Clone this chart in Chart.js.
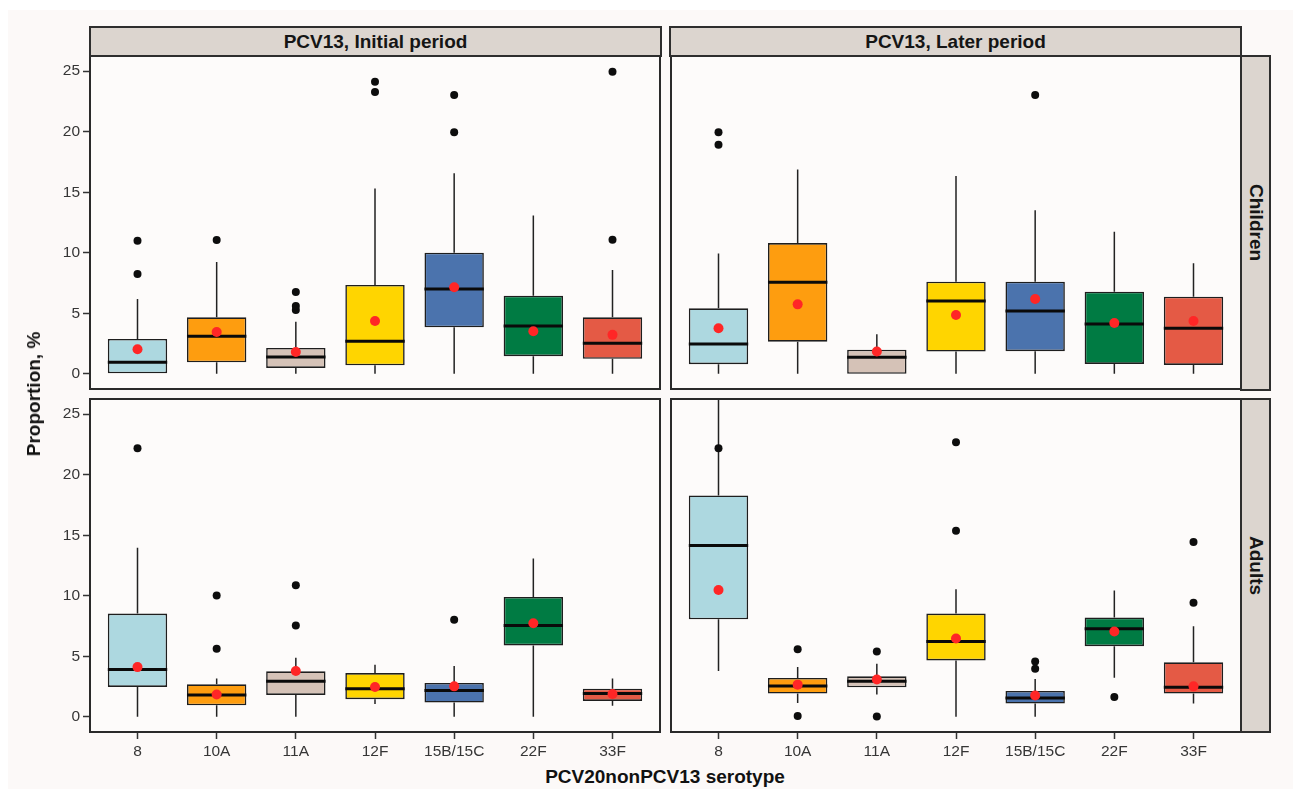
<!DOCTYPE html>
<html><head><meta charset="utf-8">
<script src="https://cdn.jsdelivr.net/npm/chart.js@4.4.1/dist/chart.umd.min.js"></script>
<style>
html,body{margin:0;padding:0;background:#fff;width:1293px;height:789px;overflow:hidden;font-family:"Liberation Sans",Arial,sans-serif;}
#bg{position:absolute;left:8px;top:10px;width:1285px;height:779px;background:#FCF9F8;}
canvas{position:absolute;}
.strip{position:absolute;box-sizing:border-box;background:#DCD5CF;border:2px solid #2e2e2e;font-weight:bold;font-size:19px;color:#151515;display:flex;align-items:center;justify-content:center;white-space:nowrap;}
.vstrip{writing-mode:vertical-rl;}
.title{position:absolute;font-weight:bold;font-size:19px;color:#111;white-space:nowrap;}
</style></head>
<body>
<div id="bg"></div>
<canvas id="cTL" width="621" height="335" style="left:40px;top:55px;"></canvas>
<canvas id="cTR" width="572" height="335" style="left:670px;top:55px;"></canvas>
<canvas id="cBL" width="621" height="365" style="left:40px;top:398px;"></canvas>
<canvas id="cBR" width="572" height="365" style="left:670px;top:398px;"></canvas>
<div class="strip" style="left:89px;top:26px;width:573px;height:31px;">PCV13, Initial period</div>
<div class="strip" style="left:669px;top:26px;width:573px;height:31px;">PCV13, Later period</div>
<div class="strip vstrip" style="left:1240px;top:55px;width:31px;height:336px;">Children</div>
<div class="strip vstrip" style="left:1240px;top:398px;width:31px;height:335px;">Adults</div>
<div class="title" style="left:34px;top:394px;transform:translate(-50%,-50%) rotate(-90deg);">Proportion, %</div>
<div class="title" style="left:665px;top:777px;transform:translate(-50%,-50%);">PCV20nonPCV13 serotype</div>
<script>
const categories = ['8','10A','11A','12F','15B/15C','22F','33F'];
const yTicks = [0,5,10,15,20,25];
const boxColors = ['#ADD8E0','#FE9D0F','#D5C2B7','#FFD500','#4B73AD','#007B43','#E45A45'];

// Children, initial period
const chIQ1   = [0, 0.96, 0.49, 0.71, 3.85, 1.46, 1.24];
const chIMed  = [0.96, 3.1, 1.4, 2.69, 7.0, 3.96, 2.53];
const chIQ3   = [2.88, 4.67, 2.14, 7.34, 10.0, 6.46, 4.67];
const chILo   = [0, 0, 0, 0, 0, 0, 0];
const chIHi   = [6.18, 9.23, 4.31, 15.3, 16.57, 13.08, 8.57];
const chIMean = [2.03, 3.46, 1.81, 4.37, 7.15, 3.52, 3.22];
const chIOut  = [[8.24, 10.99], [11.05], [5.28, 5.6, 6.76], [23.28, 24.13], [19.95, 23.03], [], [11.07, 24.95]];

// Children, later period
const chLQ1   = [0.80, 2.66, 0, 1.84, 1.87, 0.82, 0.74];
const chLMed  = [2.47, 7.56, 1.37, 6.02, 5.19, 4.12, 3.77];
const chLQ3   = [5.41, 10.8, 2.0, 7.61, 7.61, 6.79, 6.37];
const chLLo   = [0, 0, 0, 0, 0, 0, 0];
const chLHi   = [9.95, 16.87, 3.27, 16.35, 13.52, 11.73, 9.13];
const chLMean = [3.77, 5.74, 1.84, 4.86, 6.18, 4.2, 4.37];
const chLOut  = [[18.93, 19.95], [], [], [], [23.03], [], []];

// Adults, initial period
const adIQ1   = [2.47, 0.96, 1.81, 1.46, 1.18, 5.9, 1.32];
const adIMed  = [3.92, 1.81, 2.94, 2.33, 2.17, 7.54, 1.92];
const adIQ3   = [8.53, 2.69, 3.76, 3.62, 2.80, 9.9, 2.33];
const adILo   = [0, 0, 0, 1.07, 0, 0, 0.91];
const adIHi   = [13.96, 3.16, 4.88, 4.31, 4.2, 13.08, 3.16];
const adIMean = [4.11, 1.84, 3.79, 2.47, 2.52, 7.73, 1.89];
const adIOut  = [[22.18], [5.62, 10.03], [7.54, 10.86], [], [8.01], [], []];

// Adults, later period
const adLQ1   = [8.06, 1.92, 2.44, 4.66, 1.1, 5.84, 1.92];
const adLMed  = [14.15, 2.55, 2.94, 6.23, 1.56, 7.27, 2.44];
const adLQ3   = [18.29, 3.21, 3.35, 8.53, 2.14, 8.2, 4.5];
const adLLo   = [3.79, 1.15, 1.84, 0, 0, 3.24, 1.1];
const adLHi   = [30, 4.11, 4.39, 10.53, 3.13, 10.44, 7.48];
const adLMean = [10.47, 2.66, 3.08, 6.47, 1.76, 7.05, 2.52];
const adLOut  = [[22.18], [0.08, 5.59], [0.03, 5.4], [15.38, 22.67], [3.98, 4.58], [1.64], [9.43, 14.45]];

const FONT = '"Liberation Sans", Arial, sans-serif';

const boxParts = {
  id: 'boxParts',
  beforeDraw(chart) {
    const a = chart.chartArea, ctx = chart.ctx;
    ctx.save(); ctx.fillStyle = '#FDFBFA';
    ctx.fillRect(a.left, a.top, a.right - a.left, a.bottom - a.top);
    ctx.restore();
  },
  beforeDatasetsDraw(chart, args, o) {
    const a = chart.chartArea, ctx = chart.ctx, xs = chart.scales.x, ys = chart.scales.y;
    ctx.save();
    ctx.beginPath(); ctx.rect(a.left, a.top, a.right - a.left, a.bottom - a.top); ctx.clip();
    ctx.strokeStyle = '#222'; ctx.lineWidth = 1.5;
    o.q1.forEach((v, i) => {
      const x = xs.getPixelForValue(i + 1);
      ctx.beginPath();
      if (o.hi[i] > o.q3[i]) { ctx.moveTo(x, ys.getPixelForValue(o.q3[i])); ctx.lineTo(x, ys.getPixelForValue(o.hi[i])); }
      if (o.lo[i] < o.q1[i]) { ctx.moveTo(x, ys.getPixelForValue(o.q1[i])); ctx.lineTo(x, ys.getPixelForValue(o.lo[i])); }
      ctx.stroke();
    });
    ctx.restore();
  },
  afterDatasetDraw(chart, args, o) {
    if (args.index !== 0) return;
    const a = chart.chartArea, ctx = chart.ctx, ys = chart.scales.y;
    const meta = chart.getDatasetMeta(0);
    ctx.save();
    ctx.beginPath(); ctx.rect(a.left, a.top, a.right - a.left, a.bottom - a.top); ctx.clip();
    ctx.strokeStyle = '#0a0a0a'; ctx.lineWidth = 3;
    o.med.forEach((v, i) => {
      const el = meta.data[i];
      const y = ys.getPixelForValue(v);
      ctx.beginPath(); ctx.moveTo(el.x - el.width / 2, y); ctx.lineTo(el.x + el.width / 2, y); ctx.stroke();
    });
    ctx.restore();
  },
  afterDraw(chart) {
    const a = chart.chartArea, ctx = chart.ctx;
    ctx.save(); ctx.strokeStyle = '#2a2a2a'; ctx.lineWidth = 2;
    ctx.strokeRect(a.left, a.top, a.right - a.left, a.bottom - a.top);
    ctx.restore();
  }
};

function makePanel(id, q1, med, q3, lo, hi, mean, out, showX, showY) {
  const outPts = [];
  out.forEach((arr, i) => arr.forEach(v => outPts.push({x: i + 1, y: v})));
  new Chart(document.getElementById(id), {
    type: 'bar',
    data: {
      datasets: [
        {
          type: 'bar', order: 3,
          data: categories.map((c, i) => ({x: i + 1, y: [q1[i], q3[i]]})),
          backgroundColor: boxColors, borderColor: '#1e1e1e', borderWidth: 1.6,
          borderSkipped: false, barPercentage: 0.75, categoryPercentage: 1
        },
        {
          type: 'scatter', order: 2,
          data: outPts, pointRadius: 4, pointBackgroundColor: '#0d0d0d', pointBorderWidth: 0, showLine: false
        },
        {
          type: 'scatter', order: 1,
          data: categories.map((c, i) => ({x: i + 1, y: mean[i]})),
          pointRadius: 5, pointBackgroundColor: '#FF2626', pointBorderWidth: 0, showLine: false
        }
      ]
    },
    options: {
      responsive: false, animation: false, events: [],
      layout: {padding: {top: 1, right: 1, left: 0, bottom: 0}, autoPadding: false},
      plugins: {
        legend: {display: false}, tooltip: {enabled: false},
        boxParts: {q1, med, q3, lo, hi}
      },
      scales: {
        x: {
          type: 'linear', min: 0.4, max: 7.6, offset: false, display: showX,
          afterBuildTicks: s => { s.ticks = categories.map((c, i) => ({value: i + 1})); },
          afterFit: s => { s.height = showX ? 31 : 1; s.paddingLeft = 0; s.paddingRight = 0; },
          border: {display: false},
          grid: {display: true, offset: false, drawOnChartArea: false, drawTicks: true, tickLength: 7, tickColor: '#333', tickWidth: 1.5},
          ticks: {autoSkip: false, maxRotation: 0, padding: 3, color: '#363636', font: {family: FONT, size: 15.5},
                  callback: v => categories[Math.round(v) - 1]}
        },
        y: {
          type: 'linear', min: -1.25, max: 26.25, display: showY,
          afterBuildTicks: s => { s.ticks = yTicks.map(v => ({value: v})); },
          afterFit: s => { s.width = showY ? 50 : 1; s.paddingTop = 0; s.paddingBottom = 0; },
          border: {display: false},
          grid: {display: true, drawOnChartArea: false, drawTicks: true, tickLength: 7, tickColor: '#333', tickWidth: 1.5},
          ticks: {padding: 3, color: '#363636', font: {family: FONT, size: 15.5}}
        }
      }
    },
    plugins: [boxParts]
  });
}

makePanel('cTL', chIQ1, chIMed, chIQ3, chILo, chIHi, chIMean, chIOut, false, true);
makePanel('cTR', chLQ1, chLMed, chLQ3, chLLo, chLHi, chLMean, chLOut, false, false);
makePanel('cBL', adIQ1, adIMed, adIQ3, adILo, adIHi, adIMean, adIOut, true, true);
makePanel('cBR', adLQ1, adLMed, adLQ3, adLLo, adLHi, adLMean, adLOut, true, false);
</script>
</body></html>
